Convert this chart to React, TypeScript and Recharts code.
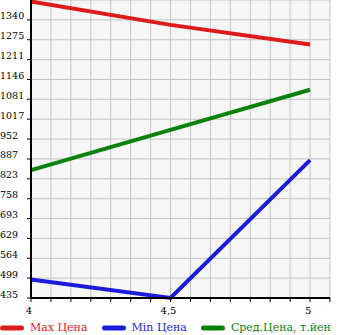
import React from "react";
import { LineChart, Line, XAxis, YAxis, CartesianGrid, Legend } from "recharts";

const xValues = [4, 4.5, 5];
const maxPrice = [1400, 1324, 1260];
const minPrice = [495, 435, 884];
const avgPrice = [851, 982, 1113];
const yTickLabels = [435, 499, 564, 629, 693, 758, 823, 887, 952, 1017, 1081, 1146, 1211, 1275, 1340];
const xTickLabels = ["4", "4,5", "5"];
const seriesNames = ["Max Цена", "Min Цена", "Сред.Цена, т.йен"];
const seriesColors = ["#dd1b1b", "#1b1bdb", "#0a820a"];

const yMin = 435;
const yMax = 1405;
const yStep = (yMax - yMin) / 15;
const yTicks = yTickLabels.map((_, i) => yMin + i * yStep);

const xStep = 0.5 / 7;
const xTicks = Array.from({ length: 16 }, (_, i) => 4 + i * xStep);

const data = xValues.map((x, i) => ({
  x,
  max: maxPrice[i],
  min: minPrice[i],
  avg: avgPrice[i],
}));

const font = "'DejaVu Serif', serif";

const fmtX = (v: number) => {
  const k = Math.round((v - 4) / xStep);
  if (k === 0) return xTickLabels[0];
  if (k === 7) return xTickLabels[1];
  if (k === 14) return xTickLabels[2];
  return "";
};

const fmtY = (v: number) => {
  const i = Math.round((v - yMin) / yStep);
  return i >= 0 && i < yTickLabels.length ? String(yTickLabels[i]) : "";
};

const YTick = (props: any) => {
  const { y, payload } = props;
  return (
    <text x={0} y={y - 0.5} textAnchor="start" fontFamily={font} fontSize={9.5} fill="#000">
      {fmtY(payload.value)}
    </text>
  );
};

const XTick = (props: any) => {
  const { x, payload } = props;
  const label = fmtX(payload.value);
  if (!label) return null;
  return (
    <text x={x - 2} y={298 + 16} textAnchor="middle" fontFamily={font} fontSize={10} fill="#000">
      {label}
    </text>
  );
};

const LegendContent = () => (
  <div style={{ display: "flex", alignItems: "center", fontFamily: font, fontSize: 11, whiteSpace: "nowrap", height: 17, paddingTop: 1 }}>
    {seriesNames.map((n, i) => (
      <div key={n} style={{ display: "flex", alignItems: "center", marginRight: 14 }}>
        <svg width={24} height={8} style={{ marginRight: 6 }}>
          <line x1={2.5} y1={4} x2={21.5} y2={4} stroke={seriesColors[i]} strokeWidth={5} strokeLinecap="round" />
        </svg>
        <span style={{ color: seriesColors[i] }}>{n}</span>
      </div>
    ))}
  </div>
);

export default function App() {
  return (
    <div style={{ position: "absolute", left: 0, top: 0, width: 345, height: 335, background: "#fff" }}>
      <LineChart width={345} height={335} data={data} margin={{ top: 0, right: 15, left: 0, bottom: 0 }}>
        <CartesianGrid stroke="#c4c4c4" strokeWidth={1} fill="#f6f6f6" />
        <XAxis
          dataKey="x"
          type="number"
          domain={[4, 4 + 15 * xStep]}
          ticks={xTicks}
          tickFormatter={fmtX}
          interval={0}
          height={20}
          tickSize={4}
          tickMargin={2}
          axisLine={{ stroke: "#000", strokeWidth: 2 }}
          tickLine={{ stroke: "#000" }}
          tick={<XTick />}
        />
        <YAxis
          type="number"
          domain={[yMin, yMax]}
          ticks={yTicks}
          tickFormatter={fmtY}
          interval={0}
          width={31}
          tickSize={4}
          tickMargin={2}
          axisLine={{ stroke: "#000", strokeWidth: 2 }}
          tickLine={{ stroke: "#000" }}
          tick={<YTick />}
        />
        <Legend verticalAlign="bottom" align="left" height={17} content={<LegendContent />} wrapperStyle={{ left: 0, bottom: 0 }} />
        <Line dataKey="max" name={seriesNames[0]} stroke={seriesColors[0]} strokeWidth={4} dot={false} isAnimationActive={false} />
        <Line dataKey="min" name={seriesNames[1]} stroke={seriesColors[1]} strokeWidth={4} dot={false} isAnimationActive={false} />
        <Line dataKey="avg" name={seriesNames[2]} stroke={seriesColors[2]} strokeWidth={4} dot={false} isAnimationActive={false} />
      </LineChart>
    </div>
  );
}
